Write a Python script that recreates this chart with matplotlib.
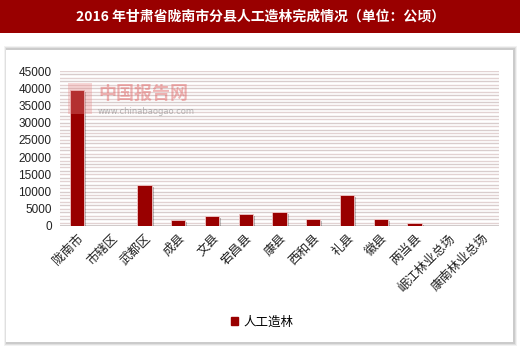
import matplotlib
matplotlib.use("Agg")
import matplotlib.pyplot as plt
import matplotlib.patches as mpatches
import matplotlib.patheffects as pe
import numpy as np

plt.rcParams['font.family'] = ['Noto Sans CJK SC', 'DejaVu Sans']

title = "2016 年甘肃省陇南市分县人工造林完成情况（单位：公顷）"
categories = ["陇南市", "市辖区", "武都区", "成县", "文县", "宕昌县", "康县",
              "西和县", "礼县", "徽县", "两当县", "岷江林业总场", "康南林业总场"]
values = [39500, 0, 11800, 1650, 2900, 3550, 4050, 2000, 9100, 1950, 850, 0, 0]
series_name = "人工造林"
yticks = [0, 5000, 10000, 15000, 20000, 25000, 30000, 35000, 40000, 45000]

W, H = 520, 349
fig = plt.figure(figsize=(W / 100, H / 100), dpi=100)
fig.patch.set_facecolor('white')

def fx(px):
    return px / W

def fy(py):
    return 1 - py / H

# title band
fig.patches.append(mpatches.Rectangle((0, fy(33)), 1, 33 / H, transform=fig.transFigure,
                                      facecolor='#990000', edgecolor='none', zorder=-10))
fig.text(0.5, fy(17), title, color='white', fontsize=10, fontweight='bold',
         ha='center', va='center')

# panel shadow + panel
for i, a in enumerate([0.05, 0.07, 0.09]):
    d = 4 - i
    fig.patches.append(mpatches.Rectangle((fx(6 - d + 2), fy(342 + d)), (507 + 2 * d - 2) / W,
                                          (292 + 2 * d) / H, transform=fig.transFigure,
                                          facecolor='black', alpha=a, edgecolor='none', zorder=-10))
fig.patches.append(mpatches.Rectangle((fx(6), fy(342)), 507 / W, 292 / H,
                                      transform=fig.transFigure, facecolor='white',
                                      edgecolor='none', zorder=-9))

ax = fig.add_axes([fx(60), fy(226), (499 - 60) / W, (226 - 71) / H])
ax.set_zorder(2)
ax.set_facecolor('none')
x = np.arange(len(categories))
ax.set_xlim(-0.5, len(categories) - 0.5)
ax.set_ylim(0, 45000)

for g in range(1000, 45001, 1000):
    ax.axhline(g, color='#e2d2d2' if (g // 1000) % 2 else '#d8cccc', lw=1.0, zorder=0)
ax.axhline(0, color='#c8c0c0', lw=1.2, zorder=1)

bars = ax.bar(x, values, width=0.42, color='#990000', edgecolor='#f0c8c8', linewidth=0.6,
              zorder=3, label=series_name)
for b in bars:
    b.set_path_effects([pe.SimplePatchShadow(offset=(1.5, -1.5), shadow_rgbFace='black', alpha=0.25),
                        pe.Normal()])

ax.set_yticks(yticks)
ax.set_yticklabels([str(v) for v in yticks], fontfamily='Liberation Sans', fontsize=8.5, color='#222222')
ax.set_xticks(x)
ax.set_xticklabels(categories, rotation=45, ha='right', rotation_mode='anchor',
                   fontsize=9, color='#222222')
ax.tick_params(axis='both', length=0, pad=4)
ax.tick_params(axis='y', pad=6)
for s in ax.spines.values():
    s.set_visible(False)

# watermark
fig.patches.append(mpatches.Rectangle((fx(68), fy(114)), 24 / W, 31 / H, transform=fig.transFigure,
                                      facecolor='#e88a8a', alpha=0.35, edgecolor='none', zorder=5))
fig.text(fx(98), fy(93), "中国报告网", color='#e05a5a', alpha=0.45, fontsize=13,
         fontweight='bold', ha='left', va='center', zorder=6)
fig.text(fx(98), fy(111), "www.chinabaogao.com", color='#888888', alpha=0.6, fontsize=6,
         ha='left', va='center', fontfamily='DejaVu Sans', zorder=6)

leg = fig.legend(handles=[mpatches.Patch(color='#990000', label=series_name)],
                 loc='center', bbox_to_anchor=(fx(262), fy(322)), frameon=False,
                 fontsize=9, handlelength=0.6, handleheight=0.6, handletextpad=0.4)

fig.savefig("out.png", dpi=100)
